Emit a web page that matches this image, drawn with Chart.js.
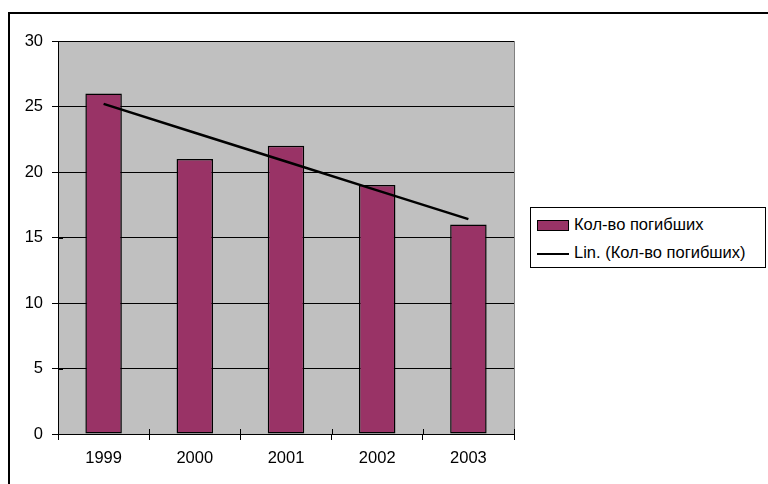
<!DOCTYPE html>
<html>
<head>
<meta charset="utf-8">
<script src="https://cdn.jsdelivr.net/npm/chart.js@4/dist/chart.umd.min.js"></script>
<style>
  html, body { margin: 0; padding: 0; background: #fff; }
  #wrap { position: relative; width: 768px; height: 484px; overflow: hidden; }
  #frame { position: absolute; left: 8px; top: 12px; width: 780px; height: 500px; border: 2px solid #000; box-sizing: border-box; }
  canvas { position: absolute; left: 0; top: 0; }
  #legend { position: absolute; left: 530px; top: 207px; width: 236px; height: 61px; border: 1px solid #000; box-sizing: border-box; background: #fff;
            font-family: "Liberation Sans", Arial, sans-serif; font-size: 16.5px; color: #000; }
  .row { position: absolute; left: 6px; height: 20px; line-height: 20px; white-space: nowrap; }
  .sw { display: inline-block; vertical-align: middle; margin-right: 5px; }
</style>
</head>
<body>
<div id="wrap">
  <div id="frame"></div>
  <canvas id="chart" width="768" height="484"></canvas>
  <div id="legend">
    <div class="row" style="top:6px"><span class="sw" style="width:30px;height:9px;background:#993366;border:1px solid #000"></span>Кол-во погибших</div>
    <div class="row" style="top:34px"><span class="sw" style="width:32px;height:0;border-top:2.5px solid #000"></span>Lin. (Кол-во погибших)</div>
  </div>
</div>
<script>
// Data
const years = ["1999", "2000", "2001", "2002", "2003"];
const deaths = [26, 21, 22, 19, 16];
// Linear trend values at each year (as drawn)
const trend = [25.2, 23.0, 20.8, 18.6, 16.4];

const FONT = { family: "'Liberation Sans', Arial, sans-serif", size: 16.5 };

// Grey plot area like the Excel chart
const plotBg = {
    id: "plotBg",
    beforeDraw(chart) {
        const { ctx, chartArea: a } = chart;
        ctx.save();
        ctx.fillStyle = "#c0c0c0";
        ctx.fillRect(a.left, a.top, a.right - a.left, a.bottom - a.top);
        ctx.strokeStyle = "#808080";
        ctx.lineWidth = 1;
        ctx.beginPath();
        ctx.moveTo(a.right + 0.5, a.top);
        ctx.lineTo(a.right + 0.5, a.bottom);
        ctx.stroke();
        ctx.restore();
    },
    // inner half of the crossing tick marks
    afterDatasetsDraw(chart) {
        const { ctx, chartArea: a, scales } = chart;
        ctx.save();
        ctx.strokeStyle = "#000";
        ctx.lineWidth = 1;
        ctx.beginPath();
        scales.y.ticks.forEach((t, i) => {
            const y = Math.round(scales.y.getPixelForTick(i)) + 0.5;
            ctx.moveTo(a.left, y);
            ctx.lineTo(a.left + 5, y);
        });
        for (let i = 0; i <= years.length; i++) {
            const x = Math.round(a.left + (a.right - a.left) * i / years.length) + 0.5;
            ctx.moveTo(x, a.bottom);
            ctx.lineTo(x, a.bottom - 5);
        }
        ctx.stroke();
        ctx.restore();
    }
};

new Chart(document.getElementById("chart").getContext("2d"), {
    data: {
        labels: years,
        datasets: [
            {
                type: "line",
                label: "Lin. (Кол-во погибших)",
                data: trend,
                borderColor: "#000",
                borderWidth: 2.5,
                pointRadius: 0,
                fill: false,
                order: 0
            },
            {
                type: "bar",
                label: "Кол-во погибших",
                data: deaths,
                backgroundColor: "#993366",
                borderColor: "#000",
                borderWidth: 1.5,
                borderSkipped: false,
                categoryPercentage: 1,
                barPercentage: 0.4,
                order: 1
            }
        ]
    },
    options: {
        responsive: false,
        animation: false,
        layout: { padding: { left: 0, top: 41, right: 254, bottom: 0 } },
        plugins: {
            legend: { display: false },
            tooltip: { enabled: false }
        },
        scales: {
            x: {
                afterFit: s => { s.height = 50; },
                grid: { offset: true, drawOnChartArea: false, color: "#000", tickLength: 6 },
                border: { color: "#000", width: 1 },
                ticks: { color: "#000", font: FONT, padding: 9, maxRotation: 0 }
            },
            y: {
                min: 0,
                max: 30,
                afterFit: s => { s.width = 58; },
                grid: { color: "#000", lineWidth: 1, tickLength: 6 },
                border: { color: "#000", width: 1 },
                ticks: { stepSize: 5, color: "#000", font: FONT, padding: 9 }
            }
        }
    },
    plugins: [plotBg]
});
</script>
</body>
</html>
